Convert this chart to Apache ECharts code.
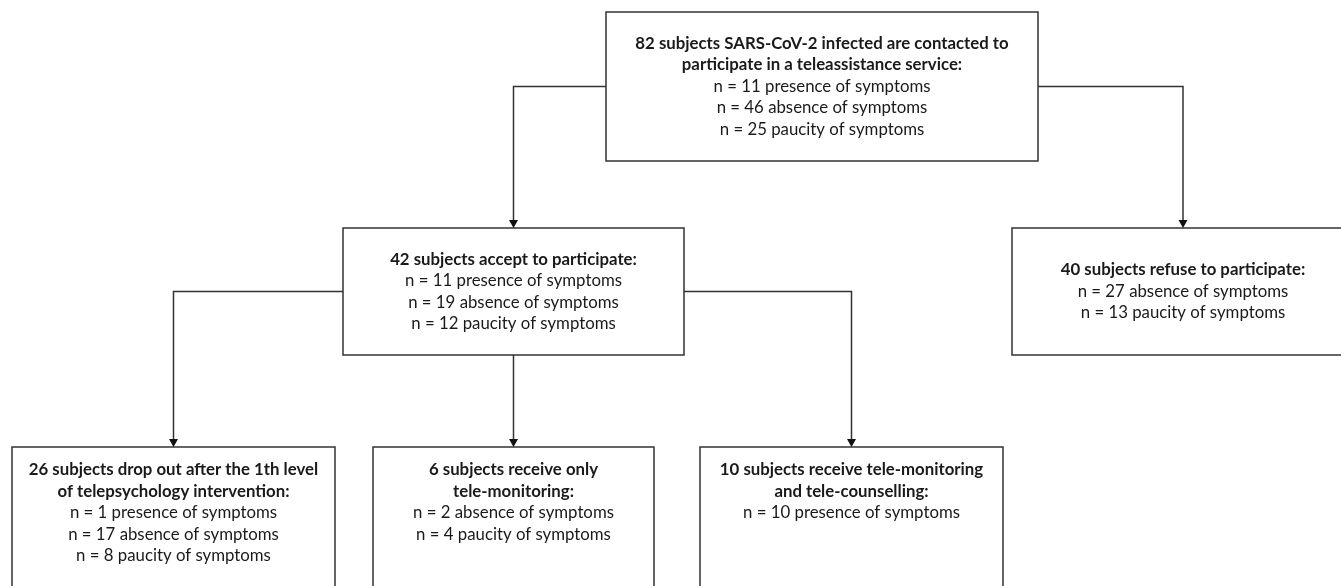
<!DOCTYPE html>
<html><head><meta charset="utf-8">
<script src="https://cdn.jsdelivr.net/npm/echarts@6/dist/echarts.min.js"></script>
<style>html,body{margin:0;padding:0;background:#fff}#c{width:1341px;height:586px}</style>
</head><body><div id="c"></div>
<script>
// ---- data ----
const totals   = [82, 42, 40, 26, 6, 10];
const presence = [11, 11, null, 1, null, 10];
const absence  = [46, 19, 27, 17, 2, null];
const paucity  = [25, 12, 13, 8, 4, null];
const headings = [
  'subjects SARS-CoV-2 infected are contacted to\nparticipate in a teleassistance service:',
  'subjects accept to participate:',
  'subjects refuse to participate:',
  'subjects drop out after the 1th level\nof telepsychology intervention:',
  'subjects receive only\ntele-monitoring:',
  'subjects receive tele-monitoring\nand tele-counselling:'
];
const links = [[0, 1], [0, 2], [1, 3], [1, 4], [1, 5]];

// ---- layout (pixel space, not data) ----
const boxes = [
  {x0: 606, y0: 12,  x1: 1038, y1: 161, anchor: 'middle'},
  {x0: 343, y0: 228, x1: 684,  y1: 355, anchor: 'middle'},
  {x0: 1012, y0: 228, x1: 1354, y1: 355, anchor: 'middle'},
  {x0: 12,  y0: 447, x1: 335,  y1: 610, anchor: 'top'},
  {x0: 373, y0: 447, x1: 654,  y1: 610, anchor: 'top'},
  {x0: 700, y0: 447, x1: 1003, y1: 610, anchor: 'top'}
];
const LH = 21.5;
const FONT = 'Lato';
const FS = 16.8;
const LINE = '#333333';
const TEXT = '#1a1a1a';

function nodeText(i) {
  const head = (totals[i] + ' ' + headings[i]).split('\n');
  const parts = head.map(h => '{b|' + h + '}');
  if (presence[i] != null) parts.push('{n|n = ' + presence[i] + ' presence of symptoms}');
  if (absence[i] != null) parts.push('{n|n = ' + absence[i] + ' absence of symptoms}');
  if (paucity[i] != null) parts.push('{n|n = ' + paucity[i] + ' paucity of symptoms}');
  return parts;
}

const chart = echarts.init(document.getElementById('c'), null, {renderer: 'canvas'});
chart.setOption({
  animation: false,
  backgroundColor: '#fff',
  grid: {left: 0, right: 0, top: 0, bottom: 0},
  xAxis: {type: 'value', min: 0, max: 1341, show: false},
  yAxis: {type: 'value', min: 0, max: 586, inverse: true, show: false},
  series: [
    {
      type: 'custom',
      coordinateSystem: 'cartesian2d',
      clip: false,
      data: totals.map((t, i) => [i]),
      renderItem: function (params, api) {
        const i = api.value(0);
        const b = boxes[i];
        const p0 = api.coord([b.x0, b.y0]);
        const p1 = api.coord([b.x1, b.y1]);
        const lines = nodeText(i);
        const cx = (p0[0] + p1[0]) / 2;
        let ty;
        if (b.anchor === 'middle') ty = (p0[1] + p1[1]) / 2 - lines.length * LH / 2;
        else ty = p0[1] + 12;
        return {
          type: 'group',
          children: [
            {type: 'rect', shape: {x: p0[0], y: p0[1], width: p1[0] - p0[0], height: p1[1] - p0[1]},
             style: {fill: '#fff', stroke: LINE, lineWidth: 1.5}},
            {type: 'text', style: {
              x: cx, y: ty, align: 'center', verticalAlign: 'top',
              text: lines.join('\n'),
              rich: {
                b: {fontFamily: FONT, fontSize: FS, fontWeight: 'bold', fill: TEXT, lineHeight: LH, align: 'center'},
                n: {fontFamily: FONT, fontSize: FS, fontWeight: 'normal', fill: TEXT, lineHeight: LH, align: 'center'}
              }
            }}
          ]
        };
      }
    },
    {
      type: 'custom',
      coordinateSystem: 'cartesian2d',
      clip: false,
      data: links.map((l, k) => [k]),
      renderItem: function (params, api) {
        const k = api.value(0);
        const a = boxes[links[k][0]], c = boxes[links[k][1]];
        const tx = (c.x0 + c.x1) / 2;
        let pts;
        if (tx > a.x0 && tx < a.x1) {
          pts = [[tx, a.y1], [tx, c.y0]];
        } else {
          const my = (a.y0 + Math.min(a.y1, 600)) / 2;
          const sx = tx < a.x0 ? a.x0 : a.x1;
          pts = [[sx, my], [tx, my], [tx, c.y0]];
        }
        const px = pts.map(p => api.coord(p));
        const end = px[px.length - 1];
        return {
          type: 'group',
          children: [
            {type: 'polyline', shape: {points: px.map((p, j) => j === px.length - 1 ? [p[0], p[1] - 6] : p)},
             style: {stroke: LINE, lineWidth: 1.5, fill: null}},
            {type: 'polygon', shape: {points: [[end[0] - 4.5, end[1] - 8], [end[0] + 4.5, end[1] - 8], [end[0], end[1]]]},
             style: {fill: '#111'}}
          ]
        };
      }
    }
  ]
});
</script>
</body></html>
